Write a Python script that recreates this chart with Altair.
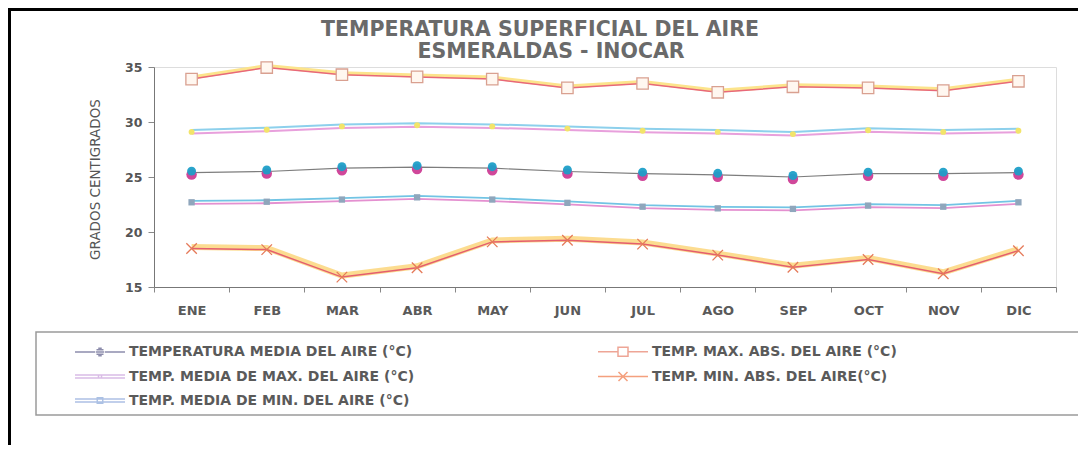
import altair as alt
import pandas as pd

FONT = "DejaVu Sans"

MESES = ["ENE", "FEB", "MAR", "ABR", "MAY", "JUN", "JUL", "AGO", "SEP", "OCT", "NOV", "DIC"]
T_MEDIA = [25.4, 25.5, 25.8, 25.9, 25.8, 25.5, 25.3, 25.2, 25.0, 25.3, 25.3, 25.4]
T_MAX_ABS = [33.9, 34.95, 34.3, 34.1, 33.9, 33.1, 33.5, 32.7, 33.2, 33.1, 32.85, 33.7]
T_MEDIA_MAX = [29.1, 29.3, 29.6, 29.7, 29.6, 29.4, 29.2, 29.1, 28.9, 29.25, 29.1, 29.2]
T_MIN_ABS = [18.5, 18.4, 15.9, 16.75, 19.1, 19.25, 18.9, 17.9, 16.8, 17.5, 16.2, 18.3]
T_MEDIA_MIN = [22.7, 22.75, 22.95, 23.15, 22.95, 22.65, 22.3, 22.15, 22.1, 22.4, 22.3, 22.7]

TITULO = "TEMPERATURA SUPERFICIAL DEL AIRE"
SUBTITULO = "ESMERALDAS - INOCAR"
Y_TITULO = "GRADOS CENTIGRADOS"

S_MED = "TEMPERATURA MEDIA DEL AIRE (°C)"
S_MAXA = "TEMP. MAX. ABS. DEL AIRE (°C)"
S_MMAX = "TEMP. MEDIA DE MAX. DEL AIRE (°C)"
S_MINA = "TEMP. MIN. ABS. DEL AIRE(°C)"
S_MMIN = "TEMP. MEDIA DE MIN. DEL AIRE (°C)"
# legend order (column-major fill: left column first, then right column)
SERIES = [S_MED, S_MMAX, S_MMIN, S_MAXA, S_MINA]
VALUES = [T_MEDIA, T_MEDIA_MAX, T_MEDIA_MIN, T_MAX_ABS, T_MIN_ABS]

LEG_COLORS = ["#5d5d8a", "#C9A0DC", "#8AA7DA", "#E8806A", "#F07848"]
LEG_PATHS = [
    "M-5,0H-1M1,0H5M-0.7,-0.45H0.7M-0.85,0H0.85M-0.7,0.45H0.7M-0.35,-0.75H0.35M-0.35,0.75H0.35",
    "M-5,-0.3H5M-5,0.3H5M-0.3,-0.3H0.3V0.3H-0.3Z",
    "M-5,-0.3H5M-5,0.3H5M-0.55,-0.55H0.55V0.55H-0.55Z",
    "M-5,0H-1M1,0H5M-1,-0.9H1V0.9H-1Z",
    "M-5,0H5M-0.9,-0.9L0.9,0.9M-0.9,0.9L0.9,-0.9",
]

rows = []
for s, vals in zip(SERIES, VALUES):
    for m, v in zip(MESES, vals):
        rows.append({"mes": m, "serie": s, "valor": v})
df = pd.DataFrame(rows)

W, H = 902, 220
PAD_L, PAD_T, PAD_R, PAD_B = 146, 59, 22, 158

X = alt.X(
    "mes:N", sort=MESES,
    scale=alt.Scale(type="band", paddingInner=0, paddingOuter=0),
    axis=alt.Axis(title=None, tickBand="extent", labelAngle=0, labelFont=FONT,
                  labelFontSize=13, labelFontWeight="bold", labelColor="#5a5a5a",
                  labelPadding=12, tickSize=5, tickColor="#888888",
                  domainColor="#777777", grid=False),
)
Y = alt.Y(
    "valor:Q",
    scale=alt.Scale(domain=[15, 35], nice=False, zero=False),
    axis=alt.Axis(title=Y_TITULO, values=[15, 20, 25, 30, 35], grid=False,
                  labelFont=FONT, labelFontSize=12.5, labelFontWeight="bold",
                  labelColor="#555555", tickSize=6, labelPadding=6,
                  tickColor="#888888", domainColor="#777777",
                  titleFont=FONT, titleFontSize=13.5, titleFontWeight="normal",
                  titleColor="#555555", titleAngle=270, titleX=-59, titleY=112,
                  titleAlign="center", titleBaseline="middle"),
)

base = alt.Chart(df)


def serie(name):
    return base.transform_filter(alt.datum.serie == name)


layers = [
    serie(S_MINA).mark_line(color="#FCD67C", strokeWidth=6, yOffset=-1.5, opacity=0.85).encode(X, Y),
    serie(S_MINA).mark_line(color="#E45E6E", strokeWidth=1.5).encode(X, Y),
    serie(S_MMIN).mark_line(color="#72C4E4", strokeWidth=1.8, yOffset=-1.5).encode(X, Y),
    serie(S_MMIN).mark_line(color="#E490D0", strokeWidth=1.8, yOffset=1.5).encode(X, Y),
    serie(S_MED).mark_line(color="#7d7d7d", strokeWidth=1.2).encode(X, Y),
    serie(S_MMAX).mark_line(color="#8DD0EC", strokeWidth=2, yOffset=-2).encode(X, Y),
    serie(S_MMAX).mark_line(color="#E8A0DC", strokeWidth=2, yOffset=1.5).encode(X, Y),
    serie(S_MAXA).mark_line(color="#FCE48C", strokeWidth=4, yOffset=-1.5).encode(X, Y),
    serie(S_MAXA).mark_line(color="#E8687A", strokeWidth=1.5).encode(X, Y),
    serie(S_MINA).mark_point(shape="M-1,-1L1,1M-1,1L1,-1", size=110, filled=False,
                             color="#E57A5A", strokeWidth=1.3, opacity=1).encode(X, Y),
    serie(S_MMIN).mark_square(size=40, color="#8FA6BC", opacity=1).encode(X, Y),
    serie(S_MED).mark_circle(size=110, color="#D0479A", yOffset=2, opacity=1).encode(X, Y),
    serie(S_MED).mark_circle(size=80, color="#1E9FC8", yOffset=-1.5, opacity=0.95).encode(X, Y),
    serie(S_MMAX).mark_circle(size=35, color="#F2E46A", opacity=1).encode(X, Y),
    serie(S_MAXA).mark_square(size=130, fill="#FFF7F0", stroke="#D9A090", strokeWidth=1.3,
                              opacity=1).encode(X, Y),
]

one = alt.Data(values=[{}])
frame_left = alt.Chart(one).mark_rule(color="black", strokeWidth=3).encode(
    x=alt.value(-PAD_L + 1.5), y=alt.value(-PAD_T), y2=alt.value(H + PAD_B))
frame_top = alt.Chart(one).mark_rule(color="black", strokeWidth=3).encode(
    x=alt.value(-PAD_L), x2=alt.value(W + PAD_R), y=alt.value(-PAD_T + 1.5))
legend_box = alt.Chart(one).mark_rect(fill="white", stroke="#9a9a9a", strokeWidth=1.5).encode(
    x=alt.value(36 - 154), x2=alt.value(1079 - 154), y=alt.value(332 - 67), y2=alt.value(415 - 67))

title_1 = alt.Chart(one).mark_text(
    text=TITULO, font=FONT, fontSize=20.5, fontWeight="bold", color="#6a6a6a",
    align="center", baseline="middle").encode(x=alt.value(540 - 154), y=alt.value(30 - 67))
title_2 = alt.Chart(one).mark_text(
    text=SUBTITULO, font=FONT, fontSize=20.5, fontWeight="bold", color="#6a6a6a",
    align="center", baseline="middle").encode(x=alt.value(551 - 154), y=alt.value(52 - 67))

LEG = alt.Legend(title=None, orient="none", legendX=-79, legendY=277.5, columns=2,
                 columnPadding=180, rowPadding=9, symbolSize=100, symbolOffset=18,
                 labelOffset=22, labelFont=FONT, labelFontSize=14, labelFontWeight="bold",
                 labelColor="#5a5a5a", labelLimit=600, symbolStrokeWidth=1.5, padding=0)

legend_df = pd.DataFrame({"serie": SERIES, "valor": [None] * len(SERIES)})
legend_layer = alt.Chart(legend_df).mark_point(filled=False, size=100, strokeWidth=1.5).encode(
    y=Y,
    color=alt.Color("serie:N", scale=alt.Scale(domain=SERIES, range=LEG_COLORS), legend=LEG),
    shape=alt.Shape("serie:N", scale=alt.Scale(domain=SERIES, range=LEG_PATHS), legend=LEG),
)

chart = alt.layer(legend_box, *layers, legend_layer, title_1, title_2,
                  frame_left, frame_top).properties(
    width=W, height=H,
    autosize=alt.AutoSizeParams(type="none"),
    padding={"left": PAD_L, "top": PAD_T, "right": PAD_R, "bottom": PAD_B},
).configure_view(strokeWidth=0).configure(background="white")

chart.save("out.html", embed_options={"renderer": "svg", "actions": False})
